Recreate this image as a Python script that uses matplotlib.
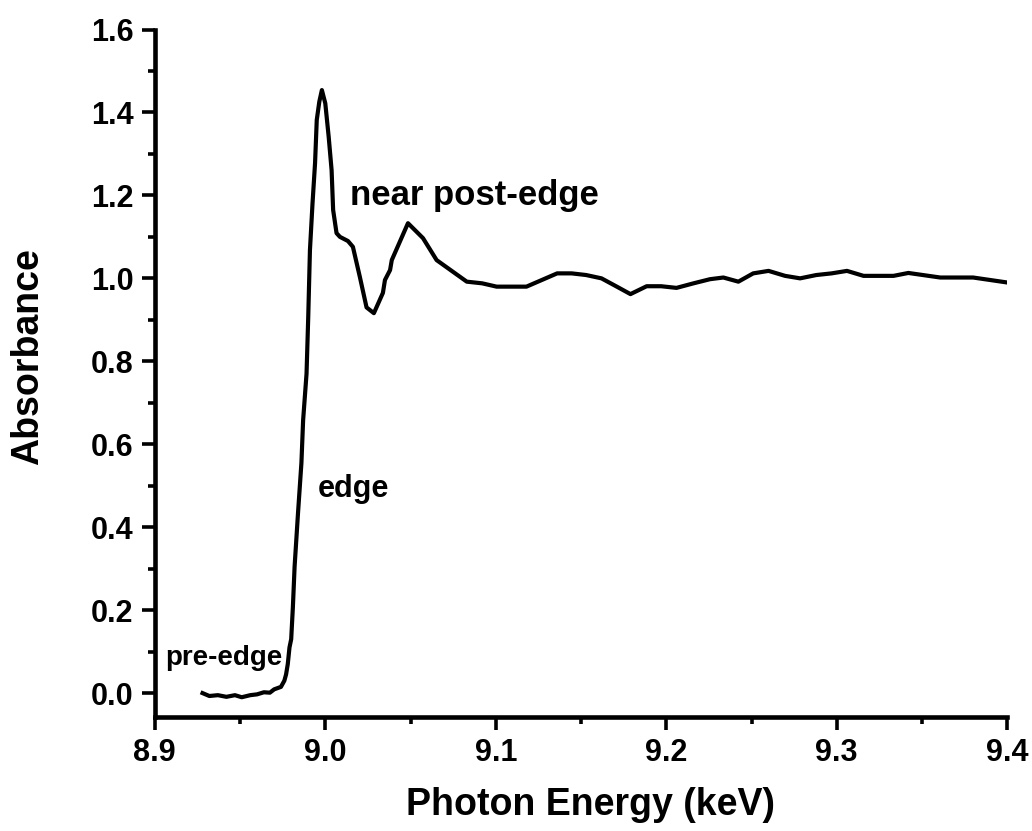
import matplotlib
matplotlib.use('Agg')
import matplotlib.pyplot as plt
from matplotlib.ticker import MultipleLocator

# Photon energy (keV) and absorbance
energy = [8.928, 8.932, 8.937, 8.942, 8.947, 8.951, 8.956, 8.960, 8.964, 8.9675,
          8.970, 8.974, 8.976, 8.977, 8.978, 8.979, 8.980, 8.981, 8.982, 8.984,
          8.986, 8.987, 8.989, 8.990, 8.991, 8.9925, 8.994, 8.995, 8.9965, 8.998,
          9.000, 9.002, 9.0037, 9.0046, 9.0066, 9.0086, 9.0133, 9.0162, 9.0203, 9.0242,
          9.0285, 9.0338, 9.035, 9.038, 9.039, 9.0485, 9.0573, 9.0653, 9.083, 9.092,
          9.1005, 9.118, 9.136, 9.1445, 9.153, 9.162, 9.171, 9.179, 9.1885, 9.197,
          9.206, 9.216, 9.2257, 9.2335, 9.2423, 9.251, 9.260, 9.2697, 9.2785, 9.288,
          9.297, 9.306, 9.3157, 9.3333, 9.342, 9.3607, 9.380, 9.400]
absorbance = [0.000, -0.007, -0.005, -0.009, -0.005, -0.010, -0.005, -0.003, 0.002, 0.001,
              0.009, 0.015, 0.030, 0.045, 0.070, 0.110, 0.130, 0.208, 0.305, 0.434,
              0.555, 0.658, 0.770, 0.907, 1.068, 1.180, 1.278, 1.382, 1.426, 1.454,
              1.422, 1.341, 1.261, 1.165, 1.109, 1.100, 1.090, 1.076, 1.003, 0.930,
              0.916, 0.965, 0.996, 1.020, 1.044, 1.133, 1.097, 1.044, 0.992, 0.988,
              0.980, 0.980, 1.012, 1.012, 1.008, 1.000, 0.980, 0.962, 0.981, 0.981,
              0.977, 0.988, 0.998, 1.002, 0.992, 1.012, 1.018, 1.006, 1.000, 1.008,
              1.012, 1.018, 1.006, 1.006, 1.013, 1.002, 1.002, 0.990]

plt.rcParams['font.family'] = ['Liberation Sans', 'DejaVu Sans']
plt.rcParams['font.weight'] = 'bold'

fig = plt.figure(figsize=(10.32, 8.31), dpi=100)
ax = fig.add_axes([0.150, 0.1375, 0.826, 0.827])

ax.plot(energy, absorbance, color='black', lw=3)

ax.set_xlim(8.9, 9.4)
ax.set_ylim(-0.057, 1.6)
ax.xaxis.set_major_locator(MultipleLocator(0.1))
ax.xaxis.set_minor_locator(MultipleLocator(0.05))
ax.yaxis.set_major_locator(MultipleLocator(0.2))
ax.yaxis.set_minor_locator(MultipleLocator(0.1))
ax.xaxis.set_major_formatter(plt.FormatStrFormatter('%.1f'))
ax.yaxis.set_major_formatter(plt.FormatStrFormatter('%.1f'))

for s in ['top', 'right']:
    ax.spines[s].set_visible(False)
for s in ['left', 'bottom']:
    ax.spines[s].set_linewidth(3.3)
    ax.spines[s].set_capstyle('projecting')

ax.tick_params(which='major', direction='out', length=9.5, width=2.6, labelsize=22, pad=6)
ax.tick_params(which='minor', direction='out', length=5, width=2.6)

ax.set_xlabel('Photon Energy (keV)', fontsize=27, fontweight='bold')
ax.set_ylabel('Absorbance', fontsize=27, fontweight='bold')
ax.xaxis.label.set_va('baseline')
ax.xaxis.set_label_coords(590 / 1032, 1 - 815 / 831, transform=fig.transFigure)
ax.yaxis.label.set_va('center')
ax.yaxis.set_label_coords(28 / 1032, 1 - 357 / 831, transform=fig.transFigure)

ax.text(8.9059, 0.0675, 'pre-edge', fontsize=20, fontweight='bold', va='baseline')
ax.text(8.9957, 0.473, 'edge', fontsize=22, fontweight='bold', va='baseline')
ax.text(9.0144, 1.177, 'near post-edge', fontsize=25, fontweight='bold', va='baseline')

fig.savefig('out.png', dpi=100)
